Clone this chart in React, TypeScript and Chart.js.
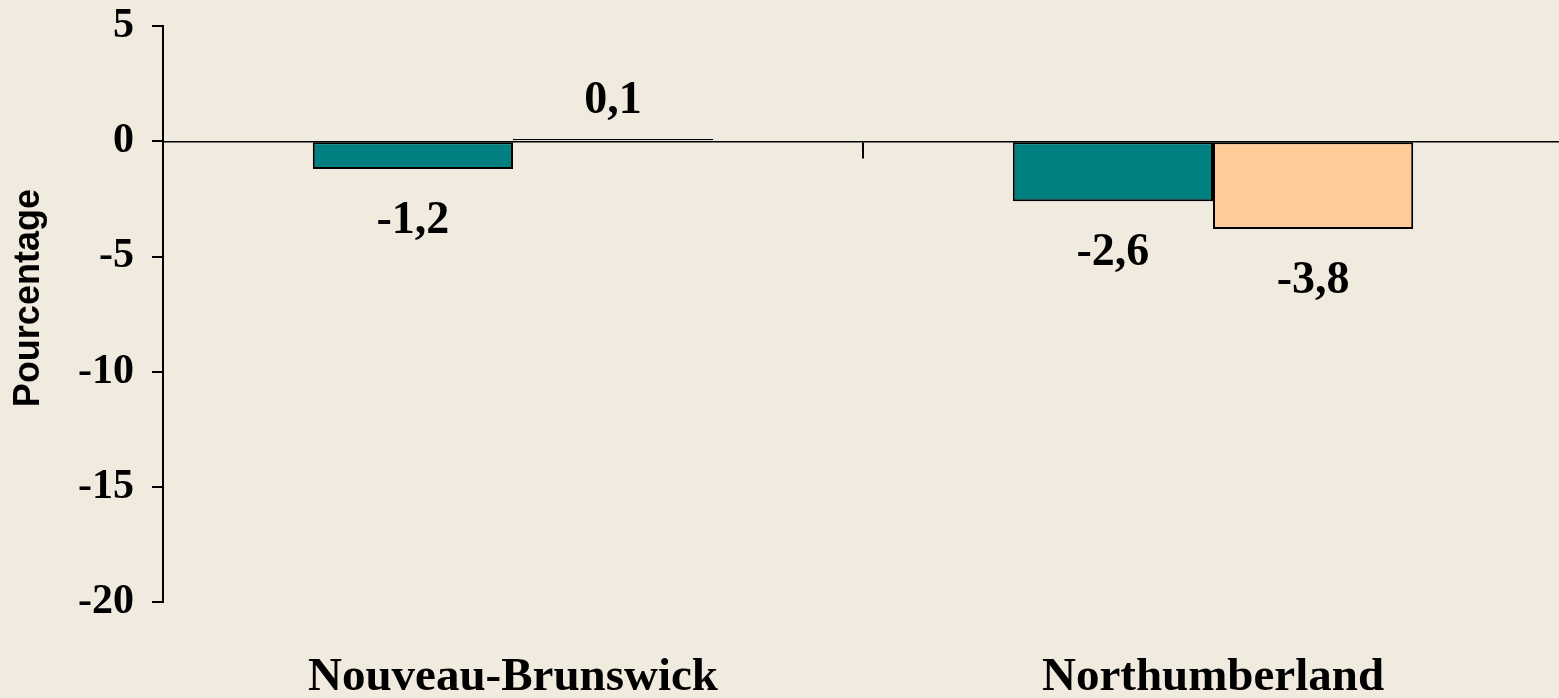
import { useEffect, useRef } from "react";
import { Chart, registerables } from "chart.js";

Chart.register(...registerables);

const categories = ["Nouveau-Brunswick", "Northumberland"];
const seriesTeal = [-1.2, -2.6];
const seriesPeach = [0.1, -3.8];
const yMin = -20;
const yMax = 5;
const yStep = 5;
const yTitle = "Pourcentage";

const SERIF = '"Liberation Serif", "Times New Roman", serif';
const SANS = '"Liberation Sans", Arial, sans-serif';

const valueLabelPlugin = {
  id: "valueLabels",
  afterDatasetsDraw(chart: any) {
    const ctx = chart.ctx;
    ctx.save();
    ctx.font = `bold 46px ${SERIF}`;
    ctx.fillStyle = "#000";
    ctx.textAlign = "center";
    ctx.textBaseline = "alphabetic";
    chart.data.datasets.forEach((ds: any, i: number) => {
      const meta = chart.getDatasetMeta(i);
      meta.data.forEach((el: any, j: number) => {
        const v = ds.data[j] as number;
        const text = v.toFixed(1).replace(".", ",");
        const y = v < 0 ? el.y + 64 : el.y - 26;
        ctx.fillText(text, el.x, y);
      });
    });
    ctx.restore();
  },
};

const yTitlePlugin = {
  id: "yTitle",
  afterDraw(chart: any) {
    const ctx = chart.ctx;
    const area = chart.chartArea;
    ctx.save();
    ctx.font = `bold 36px ${SANS}`;
    ctx.fillStyle = "#000";
    ctx.textAlign = "center";
    ctx.textBaseline = "middle";
    ctx.translate(29, (area.top + area.bottom) / 2 - 16);
    ctx.rotate(-Math.PI / 2);
    ctx.fillText(yTitle, 0, 0);
    ctx.restore();
  },
};

export default function App() {
  const ref = useRef<HTMLCanvasElement>(null);
  useEffect(() => {
    if (!ref.current) return;
    const chart = new Chart(ref.current, {
      type: "bar",
      data: {
        labels: categories,
        datasets: [
          {
            data: seriesTeal,
            backgroundColor: "#008080",
            borderColor: "#000",
            borderWidth: 2,
            borderSkipped: false,
            categoryPercentage: 0.572,
            barPercentage: 1,
          },
          {
            data: seriesPeach,
            backgroundColor: "#FFCC99",
            borderColor: "#000",
            borderWidth: 2,
            borderSkipped: false,
            categoryPercentage: 0.572,
            barPercentage: 1,
          },
        ],
      },
      options: {
        responsive: false,
        animation: false,
        devicePixelRatio: 1,
        layout: { padding: { left: 0, right: 7, top: 26, bottom: 0 } },
        plugins: { legend: { display: false }, tooltip: { enabled: false } },
        scales: {
          x: {
            type: "category",
            position: "bottom",
            offset: true,
            grid: { display: false, drawTicks: false, offset: true },
            border: { display: false },
            ticks: {
              color: "#000",
              padding: 48,
              maxRotation: 0,
              font: { family: SERIF, size: 47, weight: "bold" },
            },
            afterFit: (s: any) => {
              s.height = 96;
            },
          },
          x2: {
            type: "category",
            position: { y: 0 },
            offset: true,
            labels: categories,
            grid: {
              offset: true,
              drawOnChartArea: false,
              drawTicks: true,
              tickLength: 16,
              color: "#000",
              lineWidth: 2,
            },
            border: { display: true, color: "#000", width: 1.5 },
            ticks: { display: false },
            afterFit: (s: any) => {
              s.height = 0;
            },
          },
          y: {
            type: "linear",
            min: yMin,
            max: yMax,
            ticks: {
              stepSize: yStep,
              color: "#000",
              padding: 18,
              font: { family: SERIF, size: 42, weight: "bold" },
            },
            grid: {
              drawOnChartArea: false,
              drawTicks: true,
              tickLength: 11,
              color: "#000",
              lineWidth: 2,
            },
            border: { display: true, color: "#000", width: 2 },
            title: { display: false, text: yTitle },
            afterFit: (s: any) => {
              s.width = 163;
            },
          },
        },
      },
      plugins: [valueLabelPlugin, yTitlePlugin],
    });
    return () => chart.destroy();
  }, []);

  return (
    <div
      style={{
        position: "fixed",
        left: 0,
        top: 0,
        width: "100vw",
        height: "100vh",
        overflow: "hidden",
        background: "#F0EADF",
      }}
    >
      <div style={{ position: "absolute", left: 0, top: -17, width: 1570, height: 715 }}>
        <canvas ref={ref} width={1570} height={715} />
      </div>
    </div>
  );
}
